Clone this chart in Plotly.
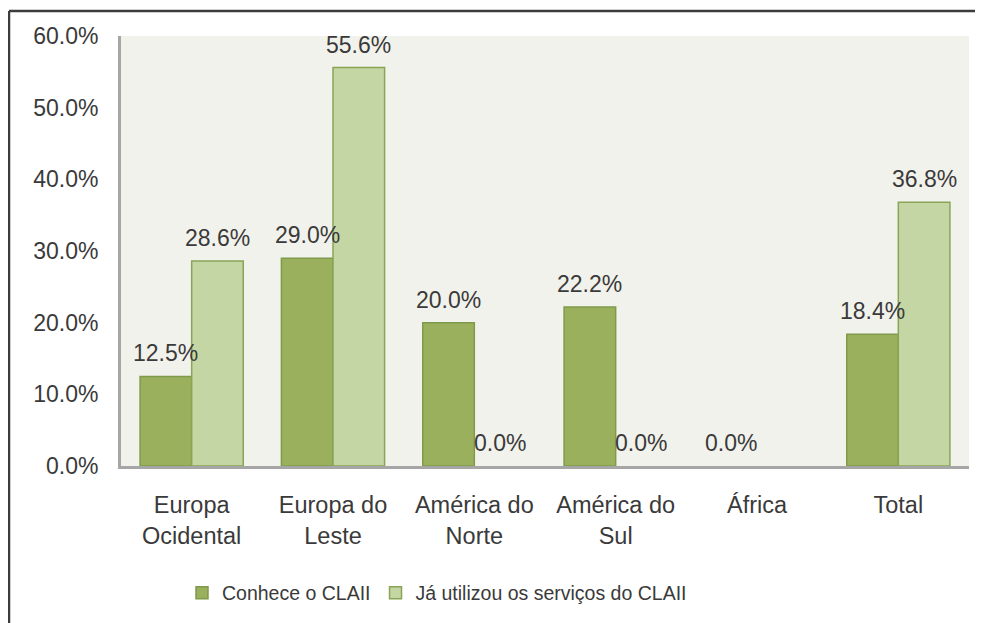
import plotly.graph_objects as go

categories = ["Europa<br>Ocidental", "Europa do<br>Leste", "América do<br>Norte",
              "América do<br>Sul", "África", "Total"]
series_names = ["Conhece o CLAII", "Já utilizou os serviços do CLAII"]
conhece = [0.125, 0.290, 0.200, 0.222, 0.000, 0.184]
utilizou = [0.286, 0.556, 0.000, 0.000, None, 0.368]
y_ticks = [0, 0.1, 0.2, 0.3, 0.4, 0.5, 0.6]

FONT = "Liberation Sans"
OFF = 8  # page body margin
W, H = 983 - OFF, 623 - OFF
L, T = 121 - OFF, 36 - OFF
R = W - (969 - OFF)
B = H - (466 - OFF)
pw, ph = W - L - R, H - T - B
TXT = "#3a3a3a"
BARGAP = 0.27


def line_widths(vals):
    return [0 if (v is None or v == 0) else 1.5 for v in vals]


fig = go.Figure()
fig.add_trace(go.Bar(
    x=categories, y=conhece, name=series_names[0],
    marker=dict(color="#9bb05d", line=dict(color="#7f9a4a", width=line_widths(conhece))),
))
fig.add_trace(go.Bar(
    x=categories, y=utilizou, name=series_names[1],
    marker=dict(color="#c5d6a5", line=dict(color="#8aa456", width=line_widths(utilizou))),
))

# value labels above each bar
half_bar_px = (pw / len(categories)) * (1 - BARGAP) / 4
for vals, sign in ((conhece, -1), (utilizou, 1)):
    for cat, v in zip(categories, vals):
        if v is None:
            continue
        fig.add_annotation(x=cat, y=v, xref="x", yref="y", text=f"{v * 100:.1f}%",
                           showarrow=False, xshift=sign * half_bar_px, yshift=8,
                           yanchor="bottom", xanchor="center",
                           font=dict(family=FONT, size=23, color=TXT))

# outer frame (left and top edges visible)
fx = (9 - OFF - L) / pw
fy = 1 + (T - (11 - OFF)) / ph
fig.add_shape(type="line", xref="paper", yref="paper",
              x0=fx, x1=1.2, y0=fy, y1=fy,
              line=dict(color="#3c3c3c", width=2.5))
fig.add_shape(type="line", xref="paper", yref="paper",
              x0=fx, x1=fx, y0=fy, y1=-0.6,
              line=dict(color="#3c3c3c", width=2.5))

fig.update_layout(
    width=W, height=H,
    margin=dict(l=L, r=R, t=T, b=B, autoexpand=False),
    paper_bgcolor="white", plot_bgcolor="#f2f2ec",
    barmode="group", bargap=BARGAP, bargroupgap=0,
    font=dict(family=FONT, size=20, color=TXT),
    showlegend=True,
    legend=dict(orientation="h", x=(182 - L - OFF) / pw, xanchor="left",
                y=(466 - 593) / ph, yanchor="middle",
                font=dict(family=FONT, size=19.5, color=TXT),
                itemwidth=30, traceorder="normal", bgcolor="rgba(0,0,0,0)"),
    xaxis=dict(showline=True, linecolor="#a6a6a6", linewidth=3,
               ticks="", tickfont=dict(family=FONT, size=23.5, color=TXT),
               ticklabelstandoff=16, showgrid=False),
    yaxis=dict(range=[0, 0.6], tickvals=y_ticks, tickformat=".1%",
               showline=True, linecolor="#a6a6a6", linewidth=3,
               showgrid=False, zeroline=False, ticks="",
               tickfont=dict(family=FONT, size=23, color=TXT),
               ticklabelstandoff=15),
)

fig.write_html("out.html")
